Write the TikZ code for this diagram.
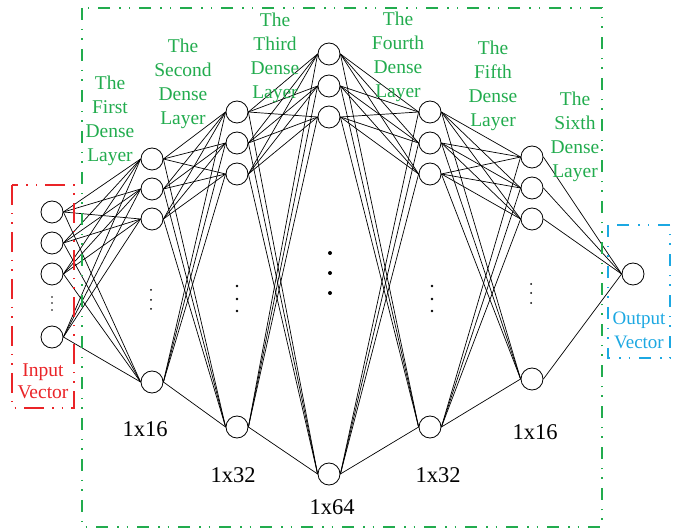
\documentclass[tikz,border=0pt]{standalone}
\usepackage{fontspec}
\setmainfont{Liberation Serif}
\usetikzlibrary{positioning}
\definecolor{layergreen}{RGB}{34,172,78}
\definecolor{inred}{RGB}{234,36,40}
\definecolor{outblue}{RGB}{28,168,226}
\tikzset{
  neuron/.style={circle,draw,minimum size=22pt,inner sep=0pt,line width=0.8pt},
  link/.style={line width=0.7pt},
  layername/.style={text=layergreen,align=center,font=\fontsize{19.5}{24}\selectfont},
  dimname/.style={font=\fontsize{22.5}{24}\selectfont},
  boxline/.style={line width=1.3pt,dash pattern=on 12pt off 9pt on 1.5pt off 8pt on 1.5pt off 9pt},
  redline/.style={line width=1.3pt,dash pattern=on 20pt off 8pt on 1.5pt off 8pt on 1.5pt off 8pt},
}

\begin{document}
\begin{tikzpicture}[x=1pt,y=-1pt]
	%\draw[help lines,step=10pt] (0,0) grid (689,529); %help grids
	\useasboundingbox (0,0) rectangle (689,529);
	% input vector
	\node[neuron] (i1) at (52,212) {};
	\node[neuron] (i2) at (52,243) {};
	\node[neuron] (i3) at (52,274) {};
	\node[neuron] (i4) at (52,337) {};
	% first dense layer
	\node[neuron] (a1) at (152,159) {};
	\node[neuron] (a2) at (152,189) {};
	\node[neuron] (a3) at (152,219) {};
	\node[neuron] (a4) at (152,382) {};
	% second dense layer
	\node[neuron] (b1) at (237,112) {};
	\node[neuron] (b2) at (237,143) {};
	\node[neuron] (b3) at (237,174) {};
	\node[neuron] (b4) at (237,427) {};
	% third dense layer
	\node[neuron] (c1) at (329,54) {};
	\node[neuron] (c2) at (329,86) {};
	\node[neuron] (c3) at (329,117) {};
	\node[neuron] (c4) at (329,474) {};
	% fourth dense layer
	\node[neuron] (d1) at (430,112) {};
	\node[neuron] (d2) at (430,143) {};
	\node[neuron] (d3) at (430,174) {};
	\node[neuron] (d4) at (430,427) {};
	% fifth dense layer
	\node[neuron] (e1) at (532,157) {};
	\node[neuron] (e2) at (532,188) {};
	\node[neuron] (e3) at (532,219) {};
	\node[neuron] (e4) at (532,379) {};
	% output vector
	\node[neuron] (o) at (633,274) {};

	\foreach \s/\t in {i/a,a/b,b/c,c/d,d/e}
		\foreach \p in {1,...,4}
			\foreach \q in {1,...,4}
				\draw[link] (\s\p.east) -- (\t\q.west);
	\foreach \p in {1,...,4}
		\draw[link] (e\p.east) -- (o.west);

	% vertical dots
	\foreach \y in {297,303,310} \fill (52,\y) circle (0.9pt);
	\foreach \y in {290,300,309} \fill (151,\y) circle (1pt);
	\foreach \y in {286,299,311} \fill (237,\y) circle (1.3pt);
	\foreach \y in {253,273,293} \fill (330,\y) circle (2pt);
	\foreach \y in {286,299,311} \fill (432,\y) circle (1.3pt);
	\foreach \y in {284,293,303} \fill (531,\y) circle (1pt);

	% layer names
	\node[layername] (n1) at (110,121) {The\\First\\Dense\\Layer};
	\node[layername] (n2) at (183,84) {The\\Second\\Dense\\Layer};
	\node[layername] (n3) at (275,58) {The\\Third\\Dense\\Layer};
	\node[layername] (n4) at (398,57) {The\\Fourth\\Dense\\Layer};
	\node[layername] (n5) at (493,86) {The\\Fifth\\Dense\\Layer};
	\node[layername] (n6) at (575,137) {The\\Sixth\\Dense\\Layer};

	% sizes
	\node[dimname] (s1) at (145,429) {1x16};
	\node[dimname] (s2) at (233,475) {1x32};
	\node[dimname] (s3) at (332,507) {1x64};
	\node[dimname] (s4) at (438,475) {1x32};
	\node[dimname] (s5) at (535,432) {1x16};

	% boxes
	\draw[redline,inred] (12,185) rectangle (74,408);
	\node[text=inred,align=center,font=\fontsize{19.5}{22}\selectfont] (inlab) at (43,381) {Input\\Vector};
	\draw[boxline,layergreen] (82,8) rectangle (602,527);
	\draw[boxline,outblue] (608,225) rectangle (670,358);
	\node[text=outblue,align=center,font=\fontsize{19}{24}\selectfont] (outlab) at (639,330) {Output\\Vector};
\end{tikzpicture}
\end{document}
